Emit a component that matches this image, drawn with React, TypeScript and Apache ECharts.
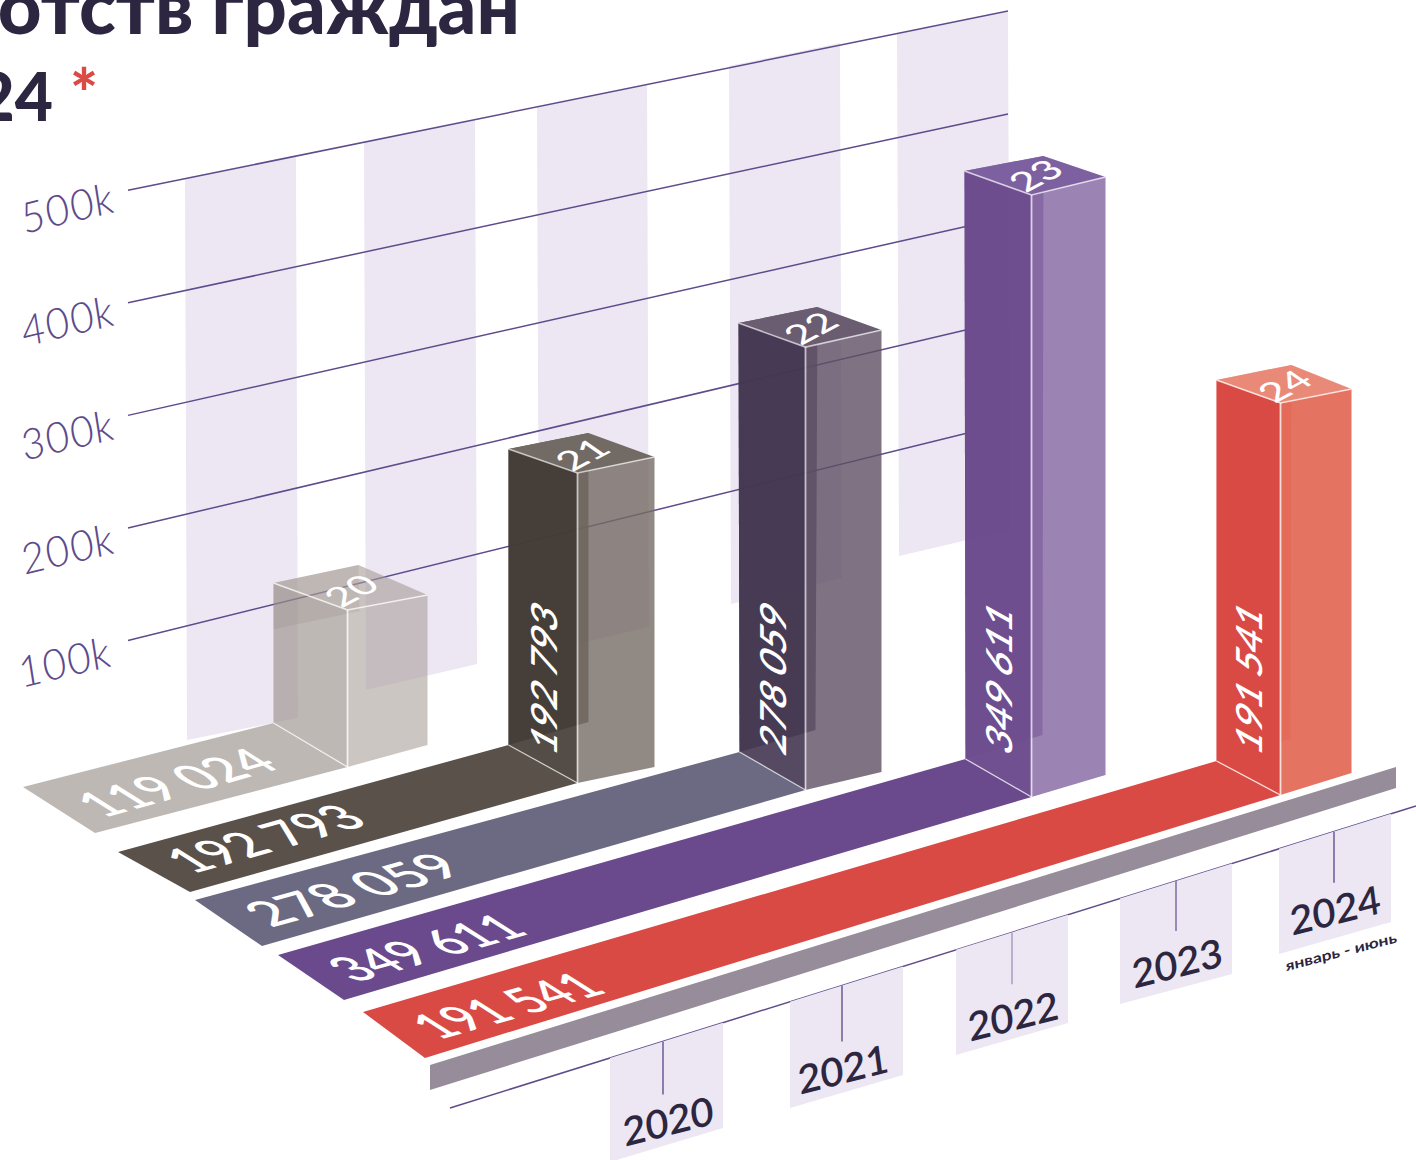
import React, { useEffect, useRef } from "react";
import * as echarts from "echarts";

// ---------- data ----------
const CATEGORIES = ["2020", "2021", "2022", "2023", "2024"];
const VALUES = [119024, 192793, 278059, 349611, 191541];
const Y_TICKS = [100000, 200000, 300000, 400000, 500000];
const Y_LABELS = ["100k", "200k", "300k", "400k", "500k"];
const TITLE_LINE_1 = "отств граждан";
const TITLE_LINE_2 = "24";
const TITLE_MARK = "*";
const PERIOD_NOTE = "январь - июнь";

// ---------- layout & style ----------
const FONT = "Lato";
const INK = "#2D2640";
const AXIS = "#5E4B8B";
const TILE = "#ECE7F2";
const RED = "#DC4A44";

const GRID = { left: 231, top: 0, width: 1165, height: 1020 };
const Y_MAX = 600000;

// perspective: each slot's offset from its axis band, floor level and depth scale
const SLOT_DX = [0, -3, -8, -15, 1];
const SLOT_FLOOR = [767, 783, 790, 797, 795];
const SLOT_DEPTH = [0.776, 0.946, 0.937, 1.013, 1.204];
type P = [number, number];
const BASE_OFF: { L: P; R: P; B: P }[] = [
  { L: [-74, -44], R: [80, -22], B: [14, -62] },
  { L: [-69, -38], R: [77, -16], B: [11, -61] },
  { L: [-66, -38], R: [76, -18], B: [10, -60] },
  { L: [-66, -38], R: [74, -22], B: [11, -62] },
  { L: [-64, -34], R: [71, -22], B: [10, -56] },
];
const TOP_OFF: { L: P; R: P; B: P }[] = [
  { L: [-74, -27], R: [80, -15], B: [11, -45] },
  { L: [-69, -24], R: [77, -16], B: [11, -40] },
  { L: [-67, -24], R: [76, -17], B: [12, -40] },
  { L: [-67, -24], R: [74, -18], B: [12, -39] },
  { L: [-64, -23], R: [71, -14], B: [11, -38] },
];
// share of the height down to which the rear wall shows through
const BACK_REACH = [0.33, 1, 1, 1, 1];
const FACE = [
  { left: "rgba(150,140,135,0.62)", right: "rgba(170,160,155,0.6)", back: "rgba(150,140,135,0.25)", top: "rgba(165,155,150,0.6)", edge: "rgba(255,255,255,0.75)" },
  { left: "rgba(66,58,52,0.906)", right: "rgba(118,108,100,0.8)", back: "rgba(70,62,55,0.8)", top: "#726A65", edge: "rgba(255,255,255,0.65)" },
  { left: "rgba(66,54,80,0.9)", right: "rgba(95,80,100,0.8)", back: "rgba(75,60,88,0.8)", top: "#6A5D72", edge: "rgba(255,255,255,0.65)" },
  { left: "rgba(109,76,142,0.98)", right: "rgba(130,100,160,0.8)", back: "rgba(109,76,142,0.7)", top: "#7D609F", edge: "rgba(255,255,255,0.7)" },
  { left: "#DA4A45", right: "rgba(224,90,70,0.85)", back: "rgba(218,74,69,0.3)", top: "#E98A79", edge: "rgba(255,240,235,0.85)" },
];
const RIBBON_START: { far: P; near: P }[] = [
  { far: [23, 787], near: [95, 833] },
  { far: [118, 852], near: [190, 892] },
  { far: [195, 900], near: [262, 946] },
  { far: [278, 955], near: [344, 1000] },
  { far: [363, 1012], near: [425, 1058] },
];
const RIBBON_FILL = ["#BEB8B4", "#5A514B", "#6C6A82", "#6A4A8C", "#DA4A45"];
const RIBBON_LABEL: P[] = [[175, 782], [264, 838], [352, 889], [425, 947], [506, 1005]];
const RIBBON_STRETCH = [1, 1, 1.1, 0.98, 0.95];
const SIDE_LABEL_Y = 677;

// wall bands: [xLeft, xRight, yTopLeft, yTopRight, yBottomLeft, yBottomRight]
const WALL_BANDS = [
  [185, 296, 178, 155, 740, 718],
  [364, 475, 142, 120, 690, 664],
  [537, 647, 107, 85, 653, 627],
  [729, 840, 66, 43, 604, 578],
  [897, 1008, 34, 12, 556, 530],
];
const GRID_X = [128, 1008];
const GRID_FLOOR = [753, 526];
const GRID_SCALE = [0.662, 0.606];
const Y_LABEL_POS: P[] = [[63, 661], [66, 548], [66, 434], [66, 320], [66, 207]];

const STRIP: P[] = [[430, 1065], [1396, 767], [1396, 788], [430, 1090]];
const BASE_LINE: P[] = [[450, 1108], [1416, 806]];
const LINE_SLOPE = (BASE_LINE[1][1] - BASE_LINE[0][1]) / (BASE_LINE[1][0] - BASE_LINE[0][0]);
const lineY = (x: number) => BASE_LINE[0][1] + (x - BASE_LINE[0][0]) * LINE_SLOPE;
// tiles: [xLeft, xRight, yBottomLeft, yBottomRight]
const TILES = [
  [610, 723, 1162, 1128],
  [790, 903, 1108, 1075],
  [956, 1068, 1055, 1023],
  [1120, 1232, 1004, 974],
  [1279, 1391, 954, 922],
];
const TICK_X = [663, 842, 1012, 1176, 1334];
const TICK_LEN = [53, 56, 52, 50, 51];
const TICK_COLOR = ["#6D5A95", "#6D5A95", "#A79CC0", "#7C6BA0", "#6D5A95"];
const X_LABEL: P[] = [[668, 1120], [843, 1068], [1013, 1015], [1177, 962], [1335, 909]];

// ---------- helpers ----------
const fmt = (v: number) => String(v).replace(/\B(?=(\d{3})+$)/g, " ");
const add = (a: P, b: P): P => [a[0] + b[0], a[1] + b[1]];
const mix = (a: P, b: P, t: number): P => [a[0] + (b[0] - a[0]) * t, a[1] + (b[1] - a[1]) * t];

// text under an arbitrary linear map: ux is where glyph "right" goes, uy where glyph "down" goes
function planeText(text: string, pos: P, ux: P, uy: P, style: any) {
  const [m00, m10] = ux;
  const [m01, m11] = uy;
  const E = (m00 + m11) / 2, F = (m00 - m11) / 2, G = (m10 + m01) / 2, H = (m10 - m01) / 2;
  const Q = Math.hypot(E, H), R = Math.hypot(F, G);
  const a1 = Math.atan2(G, F), a2 = Math.atan2(H, E);
  const theta = (a2 - a1) / 2, phi = (a2 + a1) / 2;
  return {
    type: "group",
    x: pos[0],
    y: pos[1],
    rotation: -phi,
    scaleX: Q + R,
    scaleY: Q - R,
    children: [
      {
        type: "group",
        rotation: -theta,
        children: [
          {
            type: "text",
            silent: true,
            style: { text, x: 0, y: 0, align: "center", verticalAlign: "middle", fontFamily: FONT, ...style },
          },
        ],
      },
    ],
  };
}
const poly = (points: P[], fill: any) => ({ type: "polygon", silent: true, shape: { points }, style: { fill } });
const stroke = (points: P[], color: string, lineWidth: number) => ({
  type: "polyline",
  silent: true,
  shape: { points },
  style: { stroke: color, lineWidth, fill: "none" },
});

const rows = (vals: number[]) => vals.map((v, i) => [i, v]);

function renderBand(_: any, api: any) {
  const b = WALL_BANDS[api.value(0)];
  return poly([[b[0], b[2]], [b[1], b[3]], [b[1] + 2, b[5]], [b[0] + 2, b[4]]], TILE);
}

function renderGrid(_: any, api: any) {
  const i = api.value(0);
  const span = api.coord([0, 0])[1] - api.coord([0, api.value(1)])[1];
  const y0 = GRID_FLOOR[0] - span * GRID_SCALE[0];
  const y1 = GRID_FLOOR[1] - span * GRID_SCALE[1];
  return {
    type: "group",
    children: [
      stroke([[GRID_X[0], y0], [GRID_X[1], y1]], AXIS, 1.5),
      planeText(Y_LABELS[i], Y_LABEL_POS[i], [1, -0.24], [0.28, 0.97], {
        fontSize: 42,
        fontStyle: "italic",
        fontWeight: 300,
        fill: AXIS,
      }),
    ],
  };
}

function renderXAxis(_: any, api: any) {
  const i = api.value(0);
  const t = TILES[i];
  const children: any[] = [
    poly([[t[0], lineY(t[0])], [t[1], lineY(t[1])], [t[1], t[3]], [t[0], t[2]]], TILE),
    stroke([[TICK_X[i], lineY(TICK_X[i])], [TICK_X[i], lineY(TICK_X[i]) + TICK_LEN[i]]], TICK_COLOR[i], 1.5),
    planeText(CATEGORIES[i], X_LABEL[i], [0.97, -0.25], [0.13, 0.97], { fontSize: 40, fontWeight: 600, fill: INK }),
  ];
  if (i === CATEGORIES.length - 1) {
    children.push(
      planeText(PERIOD_NOTE, [1341, 951], [1.19, -0.31], [0.13, 0.97], {
        fontSize: 14.5,
        fontWeight: 700,
        fill: INK,
      })
    );
  }
  return { type: "group", children };
}

function renderBar(_: any, api: any) {
  const i = api.value(0);
  const v = api.value(1);
  const F: P = [api.coord([i, 0])[0] + SLOT_DX[i], SLOT_FLOOR[i]];
  const h = (api.coord([i, 0])[1] - api.coord([i, v])[1]) * SLOT_DEPTH[i];
  const T: P = [F[0], F[1] - h];
  const base = BASE_OFF[i];
  const top = TOP_OFF[i];
  const bL = add(F, base.L), bR = add(F, base.R), bB = add(F, base.B);
  const tL = add(T, top.L), tR = add(T, top.R), tB = add(T, top.B);
  const c = FACE[i];
  const rs = RIBBON_START[i];
  const topCenter: P = [(tL[0] + tR[0]) / 2, (tL[1] + tR[1]) / 2 + 1];
  const st = RIBBON_STRETCH[i];
  const children: any[] = [
    poly([rs.far, rs.near, F, bL], RIBBON_FILL[i]),
    poly([tL, tB, mix(tB, bB, BACK_REACH[i]), mix(tL, bL, BACK_REACH[i])], c.back),
    poly([tL, T, F, bL], c.left),
    poly([T, tR, bR, F], c.right),
    poly([tL, tB, tR, T], c.top),
    stroke([tL, T, tR], c.edge, 1.6),
    stroke([T, F], c.edge, 1.8),
    stroke([bL, F], c.edge, 1.3),
    planeText(fmt(v), RIBBON_LABEL[i], [0.96 * st, -0.27 * st], [0.92, 0.58], { fontSize: 50, fontWeight: 600, fill: "#fff" }),
    planeText(CATEGORIES[i].slice(2), topCenter, [0.88, -0.46], [0.72, 0.5], { fontSize: 40, fontWeight: 500, fill: "#fff" }),
  ];
  if (i > 0) {
    children.push(
      planeText(fmt(v), [(bL[0] + F[0]) / 2, SIDE_LABEL_Y], [0, -1], [0.92, 0.52], {
        fontSize: 39,
        fontWeight: 600,
        fill: "#fff",
      })
    );
  }
  return { type: "group", children };
}

function renderFrame() {
  return {
    type: "group",
    children: [poly(STRIP, "#978C99"), stroke(BASE_LINE, AXIS, 1.5)],
  };
}

export default function App() {
  const ref = useRef<HTMLDivElement>(null);
  useEffect(() => {
    document.body.style.margin = "0";
    const chart = echarts.init(ref.current!, undefined, { renderer: "svg" });
    const custom = (name: string, data: any[], renderItem: any) => ({
      type: "custom",
      name,
      data,
      renderItem,
      clip: false,
      silent: true,
      coordinateSystem: "cartesian2d",
      encode: { x: 0, y: 1 },
    });
    chart.setOption({
      animation: false,
      backgroundColor: "#ffffff",
      grid: { ...GRID, show: false },
      xAxis: { type: "category", data: CATEGORIES, show: false },
      yAxis: { type: "value", min: 0, max: Y_MAX, show: false },
      graphic: [
        {
          type: "text",
          silent: true,
          style: { text: TITLE_LINE_1, x: 520, y: -34, align: "right", verticalAlign: "top", fontFamily: FONT, fontWeight: 900, fontSize: 76, fill: INK },
        },
        {
          type: "text",
          silent: true,
          style: { text: TITLE_LINE_2, x: 53, y: 62, align: "right", verticalAlign: "top", fontFamily: FONT, fontWeight: 900, fontSize: 66, fill: INK },
        },
        {
          type: "text",
          silent: true,
          style: { text: TITLE_MARK, x: 84, y: 59, align: "center", verticalAlign: "top", fontFamily: FONT, fontWeight: 900, fontSize: 66, fill: RED },
        },
      ],
      series: [
        custom("wall", rows(VALUES), renderBand),
        custom("grid", Y_TICKS.map((v, i) => [i, v]), renderGrid),
        custom("frame", [[0, 0]], renderFrame),
        custom("years", rows(VALUES), renderXAxis),
        custom("bars", rows(VALUES), renderBar),
      ],
    });
    return () => chart.dispose();
  }, []);
  return <div ref={ref} style={{ position: "absolute", left: 0, top: 0, width: 1416, height: 1160 }} />;
}
